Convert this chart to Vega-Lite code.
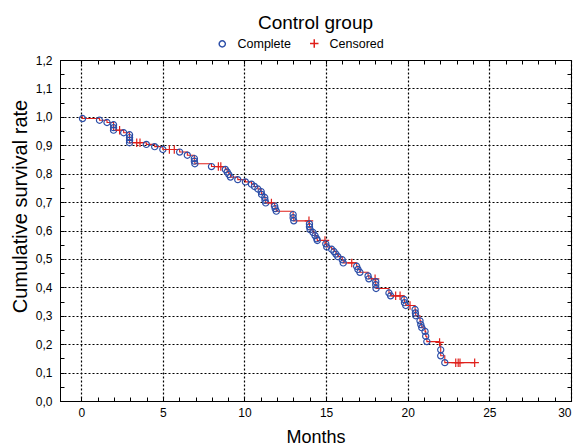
{
  "$schema": "https://vega.github.io/schema/vega-lite/v6.json",
  "width": 511,
  "height": 341,
  "autosize": {"type": "none"},
  "padding": {"left": 60, "top": 60, "right": 8, "bottom": 47},
  "background": "white",
  "config": {
    "font": "Liberation Sans",
    "view": {"stroke": "black", "strokeWidth": 1},
    "axis": {
      "domainColor": "black",
      "tickColor": "black",
      "labelColor": "black",
      "titleColor": "black",
      "labelFont": "Liberation Sans",
      "titleFont": "Liberation Sans",
      "labelFontSize": 12,
      "titleFontSize": 18,
      "titleFontWeight": "normal",
      "gridColor": "black",
      "gridDash": [2, 2],
      "gridWidth": 1.2,
      "tickSize": -4
    },
    "legend": {
      "labelFont": "Liberation Sans",
      "labelFontSize": 12.5,
      "labelColor": "black"
    }
  },
  "title": {
    "text": "Control group",
    "fontSize": 19,
    "font": "Liberation Sans",
    "fontWeight": "normal",
    "color": "black",
    "anchor": "middle",
    "offset": 4
  },
  "data": {
    "values": [
      {"t": 0, "s": 1.0, "type": "Start"},
      {"t": 0.08, "s": 0.994, "type": "Complete"},
      {"t": 1.12, "s": 0.988, "type": "Complete"},
      {"t": 1.58, "s": 0.98, "type": "Complete"},
      {"t": 1.98, "s": 0.972, "type": "Complete"},
      {"t": 1.98, "s": 0.962, "type": "Complete"},
      {"t": 1.98, "s": 0.953, "type": "Complete"},
      {"t": 2.35, "s": 0.953, "type": "Censored"},
      {"t": 2.6, "s": 0.944, "type": "Complete"},
      {"t": 2.96, "s": 0.937, "type": "Complete"},
      {"t": 2.96, "s": 0.927, "type": "Complete"},
      {"t": 2.96, "s": 0.918, "type": "Complete"},
      {"t": 2.96, "s": 0.909, "type": "Complete"},
      {"t": 3.4, "s": 0.909, "type": "Censored"},
      {"t": 3.6, "s": 0.909, "type": "Censored"},
      {"t": 3.99, "s": 0.903, "type": "Complete"},
      {"t": 4.5, "s": 0.895, "type": "Complete"},
      {"t": 5.0, "s": 0.885, "type": "Complete"},
      {"t": 5.4, "s": 0.885, "type": "Censored"},
      {"t": 5.7, "s": 0.885, "type": "Censored"},
      {"t": 6.03, "s": 0.876, "type": "Complete"},
      {"t": 6.5, "s": 0.865, "type": "Complete"},
      {"t": 6.93, "s": 0.853, "type": "Complete"},
      {"t": 6.93, "s": 0.844, "type": "Complete"},
      {"t": 6.96, "s": 0.835, "type": "Complete"},
      {"t": 7.98, "s": 0.825, "type": "Complete"},
      {"t": 8.4, "s": 0.825, "type": "Censored"},
      {"t": 8.55, "s": 0.825, "type": "Censored"},
      {"t": 8.83, "s": 0.815, "type": "Complete"},
      {"t": 8.94, "s": 0.806, "type": "Complete"},
      {"t": 9.04, "s": 0.797, "type": "Complete"},
      {"t": 9.14, "s": 0.788, "type": "Complete"},
      {"t": 9.59, "s": 0.779, "type": "Complete"},
      {"t": 10.06, "s": 0.771, "type": "Complete"},
      {"t": 10.43, "s": 0.763, "type": "Complete"},
      {"t": 10.61, "s": 0.755, "type": "Complete"},
      {"t": 10.82, "s": 0.746, "type": "Complete"},
      {"t": 11.02, "s": 0.737, "type": "Complete"},
      {"t": 11.05, "s": 0.727, "type": "Complete"},
      {"t": 11.24, "s": 0.716, "type": "Complete"},
      {"t": 11.26, "s": 0.706, "type": "Complete"},
      {"t": 11.3, "s": 0.697, "type": "Complete"},
      {"t": 11.65, "s": 0.697, "type": "Censored"},
      {"t": 11.85, "s": 0.686, "type": "Complete"},
      {"t": 11.88, "s": 0.677, "type": "Complete"},
      {"t": 11.95, "s": 0.668, "type": "Complete"},
      {"t": 12.98, "s": 0.656, "type": "Complete"},
      {"t": 12.98, "s": 0.645, "type": "Complete"},
      {"t": 13.02, "s": 0.634, "type": "Complete"},
      {"t": 13.95, "s": 0.634, "type": "Censored"},
      {"t": 13.98, "s": 0.623, "type": "Complete"},
      {"t": 13.98, "s": 0.613, "type": "Complete"},
      {"t": 14.02, "s": 0.603, "type": "Complete"},
      {"t": 14.2, "s": 0.593, "type": "Complete"},
      {"t": 14.32, "s": 0.582, "type": "Complete"},
      {"t": 14.43, "s": 0.571, "type": "Complete"},
      {"t": 14.46, "s": 0.565, "type": "Complete"},
      {"t": 14.93, "s": 0.565, "type": "Censored"},
      {"t": 14.98, "s": 0.553, "type": "Complete"},
      {"t": 15.04, "s": 0.542, "type": "Complete"},
      {"t": 15.34, "s": 0.534, "type": "Complete"},
      {"t": 15.48, "s": 0.526, "type": "Complete"},
      {"t": 15.6, "s": 0.517, "type": "Complete"},
      {"t": 15.72, "s": 0.508, "type": "Complete"},
      {"t": 15.99, "s": 0.497, "type": "Complete"},
      {"t": 16.05, "s": 0.486, "type": "Complete"},
      {"t": 16.57, "s": 0.486, "type": "Censored"},
      {"t": 16.87, "s": 0.474, "type": "Complete"},
      {"t": 16.95, "s": 0.463, "type": "Complete"},
      {"t": 17.07, "s": 0.453, "type": "Complete"},
      {"t": 17.57, "s": 0.44, "type": "Complete"},
      {"t": 17.62, "s": 0.43, "type": "Complete"},
      {"t": 18.0, "s": 0.43, "type": "Censored"},
      {"t": 18.04, "s": 0.42, "type": "Complete"},
      {"t": 18.04, "s": 0.409, "type": "Complete"},
      {"t": 18.06, "s": 0.396, "type": "Complete"},
      {"t": 18.85, "s": 0.38, "type": "Complete"},
      {"t": 18.95, "s": 0.37, "type": "Complete"},
      {"t": 19.26, "s": 0.37, "type": "Censored"},
      {"t": 19.53, "s": 0.37, "type": "Censored"},
      {"t": 19.78, "s": 0.357, "type": "Complete"},
      {"t": 19.8, "s": 0.346, "type": "Complete"},
      {"t": 19.88, "s": 0.336, "type": "Complete"},
      {"t": 20.14, "s": 0.336, "type": "Censored"},
      {"t": 20.45, "s": 0.322, "type": "Complete"},
      {"t": 20.47, "s": 0.31, "type": "Complete"},
      {"t": 20.49, "s": 0.3, "type": "Complete"},
      {"t": 20.75, "s": 0.282, "type": "Complete"},
      {"t": 20.8, "s": 0.269, "type": "Complete"},
      {"t": 20.86, "s": 0.258, "type": "Complete"},
      {"t": 21.06, "s": 0.245, "type": "Complete"},
      {"t": 21.1, "s": 0.228, "type": "Complete"},
      {"t": 21.17, "s": 0.209, "type": "Complete"},
      {"t": 21.95, "s": 0.206, "type": "Censored"},
      {"t": 22.02, "s": 0.18, "type": "Complete"},
      {"t": 22.02, "s": 0.159, "type": "Complete"},
      {"t": 22.27, "s": 0.135, "type": "Complete"},
      {"t": 22.94, "s": 0.135, "type": "Censored"},
      {"t": 23.09, "s": 0.135, "type": "Censored"},
      {"t": 23.2, "s": 0.135, "type": "Censored"},
      {"t": 24.1, "s": 0.135, "type": "Censored"}
    ]
  },
  "layer": [
    {
      "mark": {"type": "line", "interpolate": "step-after", "color": "#e0201b", "strokeWidth": 1.1},
      "encoding": {
        "x": {
          "field": "t", "type": "quantitative",
          "scale": {"domain": [-1.3, 30], "nice": false, "zero": false},
          "axis": {"orient": "top", "values": [0,1,2,3,4,5,6,7,8,9,10,11,12,13,14,15,16,17,18,19,20,21,22,23,24,25,26,27,28,29,30], "labels": false, "title": null, "grid": false, "domain": false, "tickSize": -4}
        },
        "y": {
          "field": "s", "type": "quantitative",
          "scale": {"domain": [0, 1.2], "nice": false, "zero": false},
          "axis": {"orient": "right", "values": [0,0.05,0.1,0.15,0.2,0.25,0.3,0.35,0.4,0.45,0.5,0.55,0.6,0.65,0.7,0.75,0.8,0.85,0.9,0.95,1,1.05,1.1,1.15,1.2], "labels": false, "title": null, "grid": false, "domain": false, "tickSize": -4}
        },
        "order": [
          {"field": "t", "type": "quantitative", "sort": "ascending"},
          {"field": "s", "type": "quantitative", "sort": "descending"}
        ]
      }
    },
    {
      "transform": [{"filter": "datum.type !== 'Start'"}],
      "mark": {"type": "point", "filled": false, "strokeWidth": 1.2, "opacity": 1},
      "encoding": {
        "x": {
          "field": "t", "type": "quantitative",
          "axis": {
            "orient": "bottom",
            "values": [0,1,2,3,4,5,6,7,8,9,10,11,12,13,14,15,16,17,18,19,20,21,22,23,24,25,26,27,28,29,30],
            "labelExpr": "datum.value % 5 == 0 ? datum.label : ''",
            "grid": true,
            "gridOpacity": {"condition": {"test": "datum.value % 5 != 0", "value": 0}, "value": 1},
            "tickSize": -4,
            "title": "Months",
            "titlePadding": 10,
            "labelPadding": 10
          }
        },
        "y": {
          "field": "s", "type": "quantitative",
          "axis": {
            "orient": "left",
            "values": [0,0.05,0.1,0.15,0.2,0.25,0.3,0.35,0.4,0.45,0.5,0.55,0.6,0.65,0.7,0.75,0.8,0.85,0.9,0.95,1,1.05,1.1,1.15,1.2],
            "labelExpr": "round(datum.value * 20) % 2 == 0 ? replace(format(datum.value, '.1f'), '.', ',') : ''",
            "grid": true,
            "gridOpacity": {"condition": {"test": "round(datum.value * 20) % 2 == 1", "value": 0}, "value": 1},
            "tickSize": -4,
            "title": "Cumulative survival rate",
            "titleFontSize": 20,
            "titleY": 146,
            "titlePadding": 5,
            "labelPadding": 12
          }
        },
        "shape": {
          "field": "type", "type": "nominal",
          "scale": {"domain": ["Complete", "Censored"], "range": ["circle", "M-1,0H1M0,-1V1"]},
          "legend": {"title": null, "orient": "none", "legendX": 156, "legendY": -23, "direction": "horizontal", "columnPadding": 16, "labelOffset": 9}
        },
        "color": {
          "field": "type", "type": "nominal",
          "scale": {"domain": ["Complete", "Censored"], "range": ["#2d4fa8", "#e0201b"]},
          "legend": {"title": null, "orient": "none", "legendX": 156, "legendY": -23, "direction": "horizontal", "columnPadding": 16, "labelOffset": 9}
        },
        "size": {
          "field": "type", "type": "nominal",
          "scale": {"domain": ["Complete", "Censored"], "range": [38, 72]},
          "legend": {"title": null, "orient": "none", "legendX": 156, "legendY": -23, "direction": "horizontal", "columnPadding": 16, "labelOffset": 9}
        }
      }
    }
  ],
  "resolve": {"axis": {"x": "independent", "y": "independent"}}
}
